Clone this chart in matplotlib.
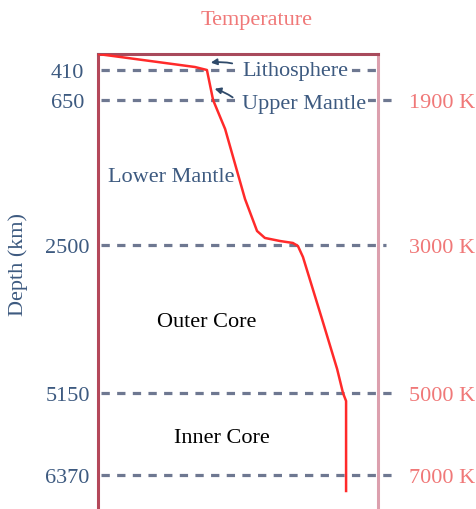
import numpy as np
import matplotlib
matplotlib.use("Agg")
import matplotlib.pyplot as plt

# --- data ---
boundary_depths = [410, 650, 2500, 5150, 6370]          # km
boundary_labels = ["410", "650", "2500", "5150", "6370"]
temp_depths = [650, 2500, 5150, 6370]
temp_labels = ["1900 K", "3000 K", "5000 K", "7000 K"]

# temperature profile (x = relative temperature across the box, y = depth in km)
curve_x = [0.0, 0.186, 0.346, 0.389, 0.411, 0.454, 0.525, 0.568, 0.596,
           0.650, 0.696, 0.714, 0.732, 0.800, 0.854, 0.875, 0.886, 0.886]
curve_depth = [0, 179, 333, 410, 650, 1020, 1913, 2321, 2410,
               2449, 2474, 2518, 2715, 3825, 4720, 5150, 5269, 6608]

# schematic (non-linear) depth axis: knots of depth -> drawn position
scale_depth = [0, 410, 650, 2500, 5150, 6370, 8000]
scale_pos = [0, 16, 46, 191, 339, 421, 530.5]

NAVY = "#3d5a80"
SALMON = "#f07878"
DASH = "#55607e"
FS = 16


def fwd(d):
    return np.interp(d, scale_depth, scale_pos)


def inv(p):
    return np.interp(p, scale_pos, scale_depth)


plt.rcParams["font.family"] = ["Liberation Serif", "DejaVu Serif"]

fig = plt.figure(figsize=(4.76, 5.10), dpi=100)
ax = fig.add_axes([98 / 476, 0, 280 / 476, 455 / 510])
ax.set_yscale("function", functions=(fwd, inv))
ax.set_ylim(6876, 0)
ax.set_xlim(0, 1)
ax.set_xticks([])

ax.spines["bottom"].set_visible(False)
ax.spines["left"].set_color("#b4485a")
ax.spines["left"].set_linewidth(2.2)
ax.spines["top"].set_color("#a84a5c")
ax.spines["top"].set_linewidth(2.2)
ax.spines["right"].set_color("#dca0ae")
ax.spines["right"].set_linewidth(2.2)

ax.set_yticks(boundary_depths, boundary_labels)
ax.yaxis.set_minor_locator(matplotlib.ticker.NullLocator())
ax.tick_params(axis="y", length=0, pad=22, labelsize=FS, labelcolor=NAVY)
for lab in ax.get_yticklabels():
    lab.set_horizontalalignment("center")

ax2 = ax.twinx()
ax2.set_yscale("function", functions=(fwd, inv))
ax2.set_ylim(ax.get_ylim())
ax2.set_yticks(temp_depths, temp_labels)
ax2.yaxis.set_minor_locator(matplotlib.ticker.NullLocator())
ax2.tick_params(axis="y", length=0, pad=22, labelsize=FS, labelcolor=SALMON)
for s in ax2.spines.values():
    s.set_visible(False)

# dashed layer boundaries
dash_ends = [1.0, 1.06, 1.03, 1.06, 1.06]
for d, xe in zip(boundary_depths, dash_ends):
    ax.plot([0.01, xe], [d, d], color=DASH, lw=2.3, alpha=0.85,
            linestyle=(0, (2.6, 2.3)), clip_on=False, zorder=2)

ax.plot(curve_x, curve_depth, color="#ff2a2a", lw=1.8, zorder=4)

box = dict(facecolor="white", edgecolor="none", pad=1.5)
ax.text(0.514, 410, "Lithosphere", color=NAVY, fontsize=FS, va="center",
        ha="left", bbox=box, zorder=3)
ax.text(0.514, 700, "Upper Mantle", color=NAVY, fontsize=FS, va="center",
        ha="left", bbox=box, zorder=3)
ax.text(0.036, 1620, "Lower Mantle", color=NAVY, fontsize=FS, va="center",
        ha="left", zorder=3)
ax.text(0.389, 3878, "Outer Core", color="black", fontsize=FS, va="center",
        ha="center", zorder=3)
ax.text(0.443, 5805, "Inner Core", color="black", fontsize=FS, va="center",
        ha="center", zorder=3)

arrow = dict(arrowstyle="-|>", color="#2f4a6a", lw=1.3, mutation_scale=9,
             connectionstyle="arc3,rad=0.1")
ax.annotate("", xy=(0.393, 231), xytext=(0.489, 256), arrowprops=arrow, zorder=5)
ax.annotate("", xy=(0.407, 554), xytext=(0.489, 642), arrowprops=arrow, zorder=5)

fig.text(257 / 476, 1 - 20 / 510, "Temperature", color=SALMON, fontsize=FS,
         ha="center", va="center")
fig.text(18 / 476, 1 - 265 / 510, "Depth (km)", color=NAVY, fontsize=FS,
         ha="center", va="center", rotation=90)

fig.savefig("out.png", dpi=100)
